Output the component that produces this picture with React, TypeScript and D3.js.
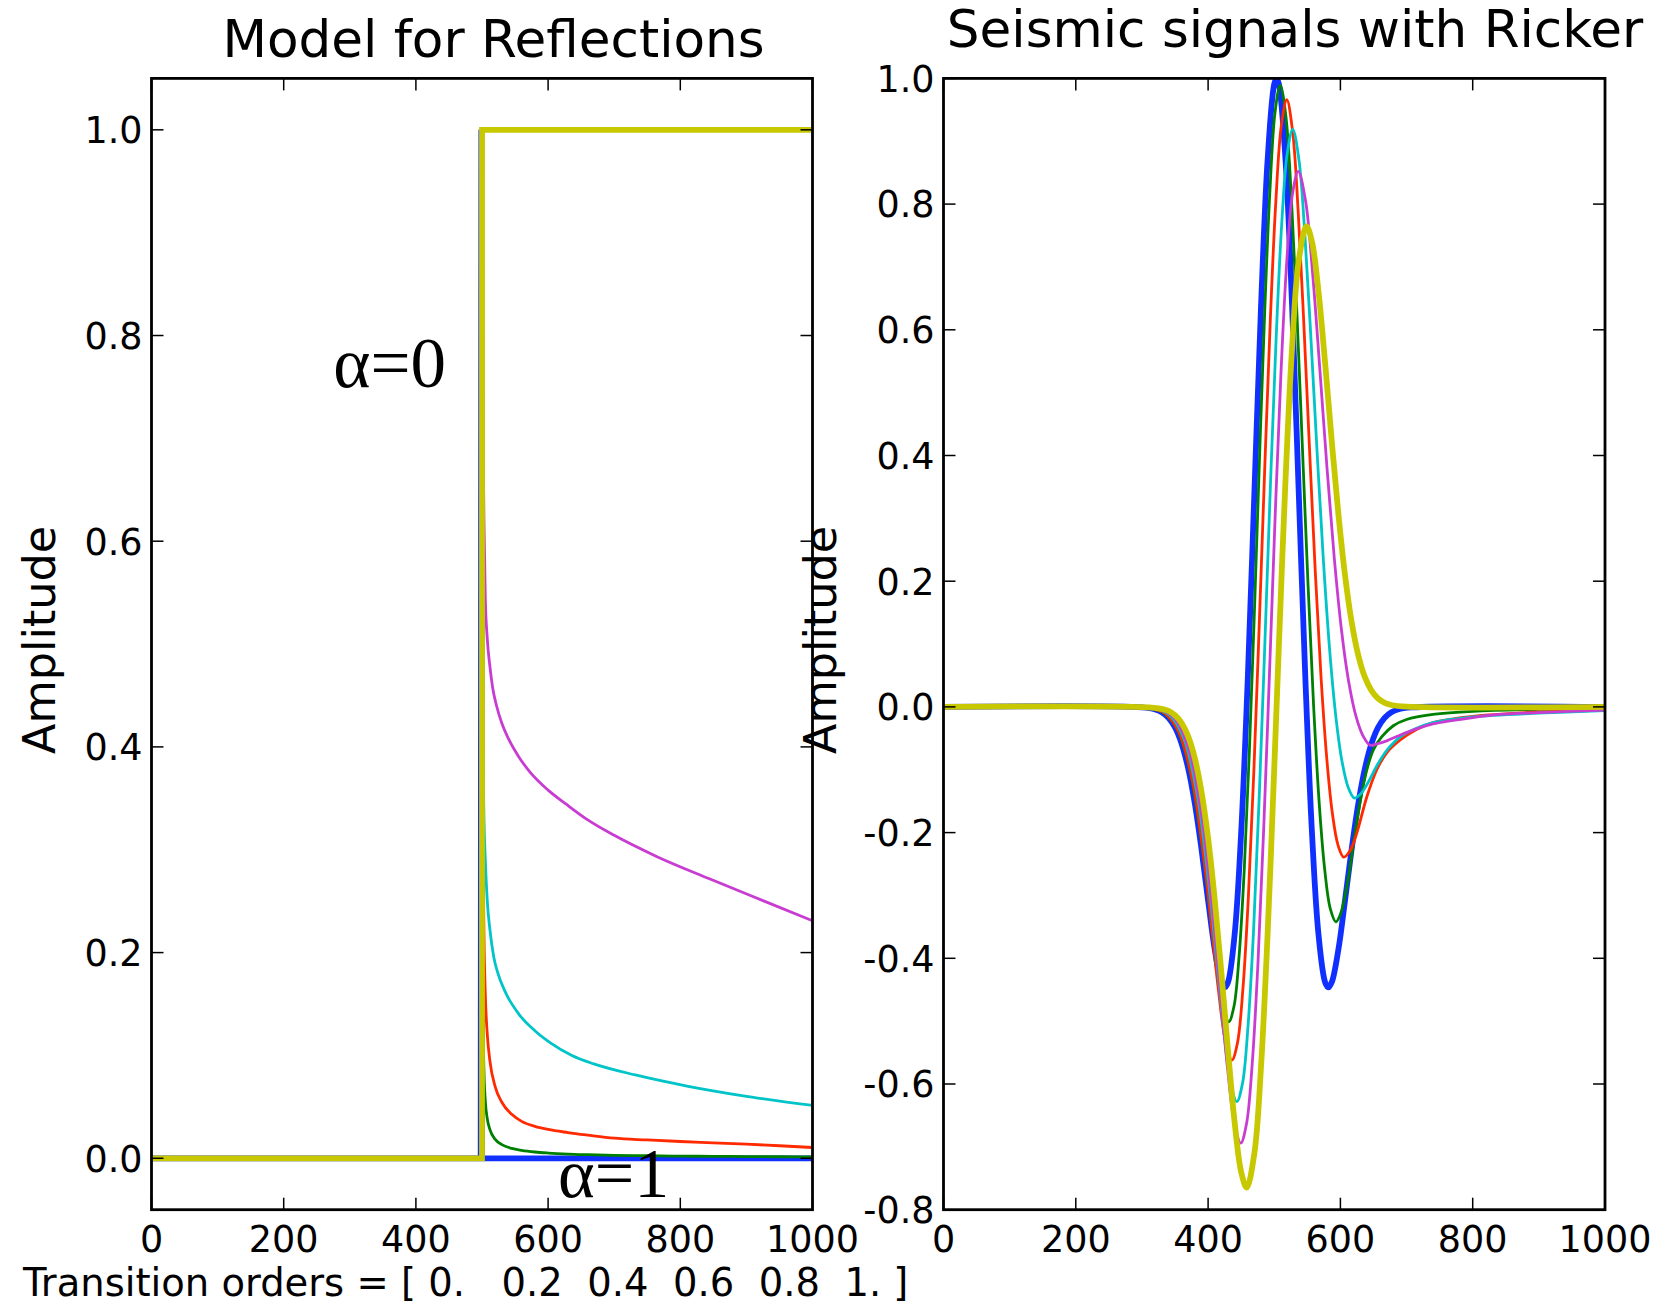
import React from 'react';
import * as d3 from 'd3';

// ---------- data ----------
const xTicks = [0, 200, 400, 600, 800, 1000];
const leftYTicks = [0, 0.2, 0.4, 0.6, 0.8, 1.0];
const rightYTicks = [-0.8, -0.6, -0.4, -0.2, 0, 0.2, 0.4, 0.6, 0.8, 1.0];
const orders = [0, 0.2, 0.4, 0.6, 0.8, 1.0];

// left panel: reflectivity models
const impulseX = [0, 498, 499, 500, 1000];
const impulseY = [0, 0, 1, 0, 0];
const stepX = [0, 500, 500, 1000];
const stepY = [0, 0, 1, 1];
const decayX = [0, 500, 501, 502, 503, 505, 508, 512, 520, 530, 545, 560, 580, 600, 630, 660, 700, 750, 800, 850, 900, 950, 1000];
const decayGreen = [0, 0, 0.2026, 0.1164, 0.0841, 0.0559, 0.0384, 0.0278, 0.0184, 0.0133, 0.0096, 0.0077, 0.0061, 0.0051, 0.0041, 0.0035, 0.0029, 0.0025, 0.0021, 0.0019, 0.0017, 0.0015, 0.0014];
const decayRed = [0, 0, 0.4193, 0.2767, 0.2169, 0.1596, 0.1204, 0.0944, 0.0695, 0.0545, 0.0427, 0.0359, 0.031, 0.028, 0.025, 0.0225, 0.0195, 0.0178, 0.0163, 0.015, 0.0137, 0.0122, 0.0105];
const cyanLX = [0, 500, 501, 502, 503, 505, 508, 512, 518, 524, 535, 556, 580, 604, 636, 668, 732, 812, 893, 1000];
const cyanLY = [0, 0, 0.45, 0.37, 0.33, 0.29, 0.25, 0.222, 0.195, 0.18, 0.162, 0.14, 0.124, 0.112, 0.1, 0.092, 0.081, 0.07, 0.061, 0.0515];
const magentaLX = [0, 500, 501, 502, 503, 505, 508, 512, 516, 522, 530, 540, 556, 572, 600, 628, 660, 700, 764, 845, 925, 1000];
const magentaLY = [0, 0, 0.8, 0.68, 0.62, 0.545, 0.505, 0.478, 0.458, 0.44, 0.423, 0.408, 0.39, 0.376, 0.358, 0.344, 0.329, 0.314, 0.2935, 0.2715, 0.2505, 0.231];

// right panel: seismic traces
const blueX = [0, 300, 320, 330, 340, 350, 360, 370, 380, 390, 400, 410, 420, 425.3, 430, 440, 450, 460, 470, 480, 490, 500, 503.5, 507, 517, 527, 537, 547, 557, 567, 577, 581.7, 587, 597, 607, 617, 627, 637, 647, 657, 667, 677, 687, 707, 1000];
const blueY = [0, -0.0008, -0.004, -0.0086, -0.0173, -0.0327, -0.0586, -0.0983, -0.1543, -0.2264, -0.3079, -0.3857, -0.4378, -0.4463, -0.4385, -0.3634, -0.1996, 0.0458, 0.3418, 0.6371, 0.8709, 0.991, 1.0, 0.991, 0.8709, 0.6371, 0.3418, 0.0458, -0.1996, -0.3634, -0.4385, -0.4463, -0.4378, -0.3857, -0.3079, -0.2264, -0.1543, -0.0983, -0.0586, -0.0327, -0.0173, -0.0086, -0.004, -0.0008, 0];
const greenX = [0, 300, 311.3, 331.3, 351.3, 371.3, 391.3, 401.3, 411.3, 421.3, 431.3, 439.1, 446.8, 454.6, 462.4, 470.2, 477.9, 485.7, 493.5, 501.2, 509, 517.4, 525.8, 534.3, 542.7, 551.1, 559.5, 567.9, 576.4, 584.8, 593.2, 600, 610, 620, 630, 640, 650, 663, 680, 700, 740, 800, 900, 1000];
const greenY = [0, 0, -0.0018, -0.0085, -0.0318, -0.0953, -0.2239, -0.3105, -0.3992, -0.4715, -0.501, -0.4767, -0.3975, -0.2603, -0.0703, 0.1578, 0.4016, 0.6326, 0.8221, 0.9461, 0.989, 0.9416, 0.8118, 0.6247, 0.4092, 0.1937, 0.0014, -0.1522, -0.2599, -0.3214, -0.342, -0.33, -0.285, -0.215, -0.15, -0.10, -0.068, -0.047, -0.030, -0.020, -0.012, -0.007, -0.004, -0.003];
const redX = [0, 300, 316, 336, 356, 376, 396, 406, 416, 426, 436, 444.3, 452.6, 460.9, 469.2, 477.5, 485.8, 494.1, 502.4, 510.7, 519, 527.6, 536.2, 544.8, 553.4, 562, 570.6, 579.2, 587.8, 596.4, 605, 615, 625, 640, 655, 670, 690, 715, 740, 800, 900, 1000];
const redY = [0, 0, -0.0026, -0.0114, -0.0406, -0.116, -0.2621, -0.3577, -0.4538, -0.5308, -0.562, -0.5352, -0.4492, -0.3021, -0.1015, 0.1357, 0.3849, 0.6171, 0.8044, 0.9249, 0.966, 0.9172, 0.7877, 0.6078, 0.4081, 0.2155, 0.0495, -0.0797, -0.1688, -0.2199, -0.239, -0.228, -0.2, -0.143, -0.1, -0.073, -0.053, -0.036, -0.025, -0.015, -0.008, -0.005];
const cyanX = [0, 300, 323.5, 343.5, 363.5, 383.5, 403.5, 413.5, 423.5, 433.5, 443.5, 452, 460.4, 468.9, 477.3, 485.8, 494.2, 502.7, 511.1, 519.6, 528, 537.3, 546.6, 555.9, 565.2, 574.5, 583.8, 593.1, 602.4, 611.7, 621, 631, 641, 656, 671, 690, 715, 740, 800, 900, 1000];
const cyanY = [0, 0, -0.0035, -0.0148, -0.0508, -0.1398, -0.3051, -0.4101, -0.5138, -0.5952, -0.628, -0.599, -0.5071, -0.3517, -0.1427, 0.1008, 0.3523, 0.5826, 0.7651, 0.8803, 0.919, 0.8707, 0.7458, 0.5776, 0.3972, 0.2295, 0.0898, -0.0154, -0.0866, -0.1278, -0.145, -0.138, -0.122, -0.092, -0.068, -0.048, -0.034, -0.025, -0.016, -0.01, -0.006];
const magentaX = [0, 300, 329.4, 349.4, 369.4, 389.4, 409.4, 419.4, 429.4, 439.4, 449.4, 458.1, 466.8, 475.5, 484.2, 492.9, 501.5, 510.2, 518.9, 527.6, 536.3, 547.2, 558, 568.9, 579.8, 590.7, 601.5, 612.4, 623.3, 634.1, 645, 655, 670, 690, 715, 740, 800, 841, 900, 1000];
const magentaY = [0, 0, -0.0045, -0.0187, -0.0621, -0.1657, -0.3507, -0.4648, -0.5751, -0.6601, -0.694, -0.6631, -0.5664, -0.4047, -0.1899, 0.0566, 0.3072, 0.5326, 0.7079, 0.8163, 0.852, 0.8061, 0.6899, 0.5375, 0.3793, 0.2373, 0.1235, 0.0407, -0.014, -0.0459, -0.061, -0.059, -0.054, -0.045, -0.035, -0.027, -0.017, -0.012, -0.009, -0.005];
const yellowX = [0, 300, 330, 340, 350, 360, 370, 380, 390, 400, 410, 420, 430, 440, 450, 458.3, 470, 480, 490, 500, 507, 517, 527, 537, 548.7, 557, 567, 577, 587, 597, 607, 617, 627, 637, 647, 657, 667, 677, 700, 1000];
const yellowY = [0, -0.0002, -0.003, -0.0065, -0.0133, -0.0258, -0.0473, -0.0821, -0.135, -0.2093, -0.3064, -0.4221, -0.5459, -0.6598, -0.7402, -0.7649, -0.71, -0.5727, -0.3602, -0.0974, 0.0974, 0.3602, 0.5727, 0.71, 0.7649, 0.7402, 0.6598, 0.5459, 0.4221, 0.3064, 0.2093, 0.135, 0.0821, 0.0473, 0.0258, 0.0133, 0.0065, 0.003, 0.0003, 0];

// ---------- styles ----------
const C = { b: '#1030ff', g: '#008000', r: '#ff2a00', c: '#00c4c8', m: '#c83cd2', y: '#c8c800' };
const THICK = 5.8;
const THIN = 2.8;
const FONT = "'DejaVu Sans', Verdana, sans-serif";
const SERIF = "'Liberation Serif', 'Times New Roman', 'DejaVu Serif', serif";

const zip = (xs: number[], ys: number[]): [number, number][] => xs.map((x, i) => [x, ys[i]]);

const fmtOrders = (o: number[]) =>
  '[ ' + o.map((v) => (v === 0 ? '0. ' : v === 1 ? '1.' : String(v))).join('  ') + ' ]';

export default function App() {
  const L = { x0: 151.5, x1: 812.5, y0: 78.4, y1: 1209.7 };
  const R = { x0: 943.5, x1: 1605, y0: 78.4, y1: 1209.7 };
  const lx = d3.scaleLinear().domain([0, 1000]).range([L.x0, L.x1]);
  const ly = d3.scaleLinear().domain([-0.05, 1.05]).range([L.y1, L.y0]);
  const rx = d3.scaleLinear().domain([0, 1000]).range([R.x0, R.x1]);
  const ry = d3.scaleLinear().domain([-0.8, 1.0]).range([R.y1, R.y0]);

  const linL = d3.line<[number, number]>().x((d) => lx(d[0])).y((d) => ly(d[1]));
  const monoL = d3.line<[number, number]>().x((d) => lx(d[0])).y((d) => ly(d[1])).curve(d3.curveMonotoneX);
  const crR = d3.line<[number, number]>().x((d) => rx(d[0])).y((d) => ry(d[1])).curve(d3.curveCatmullRom.alpha(0.5));

  const leftSeries = [
    { d: linL(zip(impulseX, impulseY)), c: C.b, w: THICK },
    { d: monoL(zip(decayX, decayGreen)), c: C.g, w: THIN },
    { d: monoL(zip(decayX, decayRed)), c: C.r, w: THIN },
    { d: monoL(zip(cyanLX, cyanLY)), c: C.c, w: THIN },
    { d: monoL(zip(magentaLX, magentaLY)), c: C.m, w: THIN },
    { d: linL(zip(stepX, stepY)), c: C.y, w: THICK },
  ];
  const rightSeries = [
    { d: crR(zip(blueX, blueY)), c: C.b, w: THICK },
    { d: crR(zip(greenX, greenY)), c: C.g, w: THIN },
    { d: crR(zip(redX, redY)), c: C.r, w: THIN },
    { d: crR(zip(cyanX, cyanY)), c: C.c, w: THIN },
    { d: crR(zip(magentaX, magentaY)), c: C.m, w: THIN },
    { d: crR(zip(yellowX, yellowY)), c: C.y, w: THICK },
  ];

  const TL = 12;
  const tickFont = 36.5;

  const axes = (
    A: typeof L,
    sx: d3.ScaleLinear<number, number>,
    sy: d3.ScaleLinear<number, number>,
    yt: number[],
    key: string
  ) => (
    <g key={key}>
      {xTicks.map((t) => (
        <g key={'x' + t}>
          <line x1={sx(t)} x2={sx(t)} y1={A.y1} y2={A.y1 - TL} stroke="#000" strokeWidth={1.5} />
          <line x1={sx(t)} x2={sx(t)} y1={A.y0} y2={A.y0 + TL} stroke="#000" strokeWidth={1.5} />
          <text x={sx(t)} y={1252} fontSize={tickFont} textAnchor="middle" fontFamily={FONT}>
            {String(t)}
          </text>
        </g>
      ))}
      {yt.map((t) => (
        <g key={'y' + t}>
          <line x1={A.x0} x2={A.x0 + TL} y1={sy(t)} y2={sy(t)} stroke="#000" strokeWidth={1.5} />
          <line x1={A.x1} x2={A.x1 - TL} y1={sy(t)} y2={sy(t)} stroke="#000" strokeWidth={1.5} />
          <text x={A.x0 - 9} y={sy(t) + 13.3} fontSize={tickFont} textAnchor="end" fontFamily={FONT}>
            {t.toFixed(1)}
          </text>
        </g>
      ))}
      <rect x={A.x0} y={A.y0} width={A.x1 - A.x0} height={A.y1 - A.y0} fill="none" stroke="#000" strokeWidth={2.8} />
    </g>
  );

  return (
    <svg width={1661} height={1305} style={{ position: 'absolute', left: 0, top: 0, background: '#fff' }}>
      <rect x={0} y={0} width={1661} height={1305} fill="#fff" />
      <defs>
        <clipPath id="clipL">
          <rect x={L.x0} y={L.y0} width={L.x1 - L.x0} height={L.y1 - L.y0} />
        </clipPath>
        <clipPath id="clipR">
          <rect x={R.x0} y={R.y0} width={R.x1 - R.x0} height={R.y1 - R.y0} />
        </clipPath>
      </defs>

      <g clipPath="url(#clipL)">
        {leftSeries.map((s, i) => (
          <path key={i} d={s.d || ''} fill="none" stroke={s.c} strokeWidth={s.w} strokeLinejoin="miter" />
        ))}
      </g>
      <g clipPath="url(#clipR)">
        {rightSeries.map((s, i) => (
          <path key={i} d={s.d || ''} fill="none" stroke={s.c} strokeWidth={s.w} strokeLinejoin="round" />
        ))}
      </g>

      {axes(L, lx, ly, leftYTicks, 'L')}
      {axes(R, rx, ry, rightYTicks, 'R')}

      <text x={493.5} y={57} fontSize={51.6} textAnchor="middle" fontFamily={FONT}>Model for Reflections</text>
      <text x={1295} y={47} fontSize={51.6} textAnchor="middle" fontFamily={FONT}>Seismic signals with Ricker</text>

      <text transform="translate(54.5,640) rotate(-90)" fontSize={44.5} textAnchor="middle" fontFamily={FONT}>Amplitude</text>
      <text transform="translate(836,640) rotate(-90)" fontSize={44.5} textAnchor="middle" fontFamily={FONT}>Amplitude</text>

      <text x={23} y={1296} fontSize={38.5} fontFamily={FONT} style={{ whiteSpace: 'pre' }} xmlSpace="preserve">
        {'Transition orders = ' + fmtOrders(orders)}
      </text>

      <text x={lx(275)} y={ly(0.75)} fontSize={71} fontFamily={SERIF}>α=0</text>
      <text x={lx(615)} y={ly(-0.038)} fontSize={70} fontFamily={SERIF}>α=1</text>
    </svg>
  );
}
